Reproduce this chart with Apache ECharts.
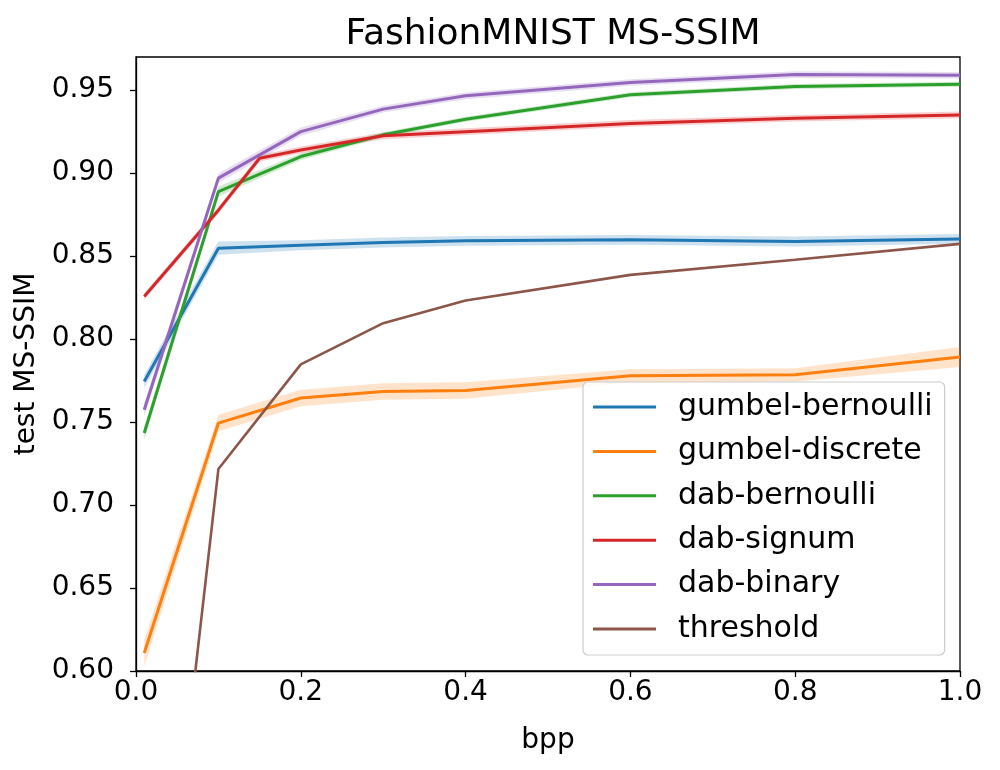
<!DOCTYPE html>
<html>
<head>
    <meta charset="utf-8" />
    <title>FashionMNIST MS-SSIM</title>
    <script src="https://cdn.jsdelivr.net/npm/echarts@6/dist/echarts.min.js"></script>
</head>
<body style="margin:0">
    <div id="container" style="width:1000px;height:770px;"></div>
    <script type="text/javascript">
    // bpp values shared by most runs; dab-signum has one extra point at 0.15
    var bpp = [0.01, 0.1, 0.2, 0.3, 0.4, 0.6, 0.8, 1.0];
    var bppSignum = [0.01, 0.1, 0.15, 0.2, 0.3, 0.4, 0.6, 0.8, 1.0];

    var names = ['gumbel-bernoulli', 'gumbel-discrete', 'dab-bernoulli', 'dab-signum', 'dab-binary', 'threshold'];
    var colors = ['#1f77b4', '#ff7f0e', '#2ca02c', '#d62728', '#9467bd', '#8c564b'];

    var gumbelBernoulli = [0.7745, 0.8548, 0.8565, 0.8582, 0.8592, 0.8598, 0.8588, 0.8604];
    var gumbelDiscrete = [0.6108, 0.7494, 0.7645, 0.7684, 0.7690, 0.7779, 0.7785, 0.7892];
    var dabBernoulli = [0.7434, 0.8889, 0.9100, 0.9231, 0.9325, 0.9472, 0.9522, 0.9536];
    var dabSignum = [0.8257, 0.8777, 0.9090, 0.9140, 0.9225, 0.9250, 0.9300, 0.9331, 0.9351];
    var dabBinary = [0.7574, 0.8970, 0.9250, 0.9386, 0.9466, 0.9546, 0.9594, 0.9590];
    var threshold = [0.33, 0.7217, 0.7848, 0.8096, 0.8233, 0.8387, 0.8478, 0.8574];

    // half width of the shaded confidence band
    var bandBernoulli = [0.004, 0.004, 0.003, 0.003, 0.003, 0.003, 0.003, 0.003];
    var bandDiscrete = [0.008, 0.005, 0.005, 0.005, 0.005, 0.004, 0.004, 0.006];
    var bandDabBern = [0.004, 0.003, 0.002, 0.0015, 0.0015, 0.0015, 0.0015, 0.0015];
    var bandSignum = [0.002, 0.002, 0.002, 0.002, 0.002, 0.002, 0.002, 0.002, 0.002];
    var bandBinary = [0.004, 0.003, 0.0025, 0.002, 0.002, 0.002, 0.002, 0.002];

    var yTicks = [0.60, 0.65, 0.70, 0.75, 0.80, 0.85, 0.90, 0.95];

    function pairs(xs, ys) {
        var out = [];
        for (var i = 0; i < xs.length; i++) out.push([xs[i], ys[i]]);
        return out;
    }

    function bandSegments(xs, ys, hw) {
        var out = [];
        for (var i = 0; i < xs.length - 1; i++) {
            out.push([xs[i], ys[i] - hw[i], ys[i] + hw[i], xs[i + 1], ys[i + 1] - hw[i + 1], ys[i + 1] + hw[i + 1]]);
        }
        return out;
    }

    function bandSeries(name, color, xs, ys, hw) {
        return {
            type: 'custom',
            name: name,
            silent: true,
            z: 1,
            data: bandSegments(xs, ys, hw),
            renderItem: function(params, api) {
                var a = api.coord([api.value(0), api.value(1)]);
                var b = api.coord([api.value(0), api.value(2)]);
                var c = api.coord([api.value(3), api.value(5)]);
                var d = api.coord([api.value(3), api.value(4)]);
                return {
                    type: 'polygon',
                    shape: { points: [a, b, c, d] },
                    style: { fill: color, opacity: 0.22 }
                };
            }
        };
    }

    function lineSeries(name, color, data, width) {
        return {
            type: 'line',
            name: name,
            data: data,
            symbol: 'none',
            clip: true,
            z: 3,
            lineStyle: { color: color, width: width },
            itemStyle: { color: color }
        };
    }

    var fontFamily = 'DejaVu Sans';

    var series = [
        bandSeries(names[0], colors[0], bpp, gumbelBernoulli, bandBernoulli),
        bandSeries(names[1], colors[1], bpp, gumbelDiscrete, bandDiscrete),
        bandSeries(names[2], colors[2], bpp, dabBernoulli, bandDabBern),
        bandSeries(names[3], colors[3], bppSignum, dabSignum, bandSignum),
        bandSeries(names[4], colors[4], bpp, dabBinary, bandBinary),
        lineSeries(names[0], colors[0], pairs(bpp, gumbelBernoulli), 3),
        lineSeries(names[1], colors[1], pairs(bpp, gumbelDiscrete), 3),
        lineSeries(names[2], colors[2], pairs(bpp, dabBernoulli), 3),
        lineSeries(names[3], colors[3], pairs(bppSignum, dabSignum), 3),
        lineSeries(names[4], colors[4], pairs(bpp, dabBinary), 3),
        lineSeries(names[5], colors[5], pairs(bpp, threshold), 2.6)
    ];

    var option = {
        animation: false,
        backgroundColor: '#fff',
        textStyle: { fontFamily: fontFamily },
        title: {
            text: 'FashionMNIST MS-SSIM',
            left: 548,
            top: 12,
            textAlign: 'center',
            textStyle: { fontFamily: fontFamily, fontSize: 36, fontWeight: 'normal', color: '#000' }
        },
        grid: {
            left: 136, top: 57, right: 40, bottom: 99,
            show: true, borderColor: '#000', borderWidth: 1.3, backgroundColor: 'transparent'
        },
        legend: {
            data: names.map(function(n, i) { return { name: n, icon: 'rect', itemStyle: { color: colors[i] } }; }),
            orient: 'vertical',
            left: 583,
            top: 382,
            itemWidth: 63,
            itemHeight: 3,
            itemGap: 14.4,
            padding: [10, 12, 11, 10],
            backgroundColor: 'rgba(255,255,255,0.85)',
            borderColor: '#cccccc',
            borderWidth: 1.2,
            borderRadius: 5,
            textStyle: { fontFamily: fontFamily, fontSize: 30, color: '#000', padding: [0, 0, 0, 17] }
        },
        xAxis: {
            type: 'value',
            min: 0,
            max: 1,
            interval: 0.2,
            name: 'bpp',
            nameLocation: 'middle',
            nameGap: 56,
            nameTextStyle: { fontFamily: fontFamily, fontSize: 28, color: '#000' },
            axisLine: { show: true, lineStyle: { color: '#000', width: 1.3 } },
            axisTick: { show: true, length: 6, lineStyle: { color: '#000', width: 1.3 } },
            axisLabel: {
                fontFamily: fontFamily, fontSize: 28, color: '#000', margin: 8,
                formatter: function(v) { return v.toFixed(1); }
            },
            splitLine: { show: false }
        },
        yAxis: {
            type: 'value',
            min: 0.6,
            max: 0.97,
            name: 'test MS-SSIM',
            nameLocation: 'middle',
            nameGap: 79,
            nameTextStyle: { fontFamily: fontFamily, fontSize: 28, color: '#000' },
            axisLine: { show: true, lineStyle: { color: '#000', width: 1.3 } },
            axisTick: { show: true, length: 6, customValues: yTicks, lineStyle: { color: '#000', width: 1.3 } },
            axisLabel: {
                fontFamily: fontFamily, fontSize: 28, color: '#000', margin: 22,
                customValues: yTicks,
                formatter: function(v) { return v.toFixed(2); }
            },
            splitLine: { show: false }
        },
        series: series
    };

    var myChart = echarts.init(document.getElementById('container'));
    myChart.setOption(option);
    </script>
</body>
</html>
